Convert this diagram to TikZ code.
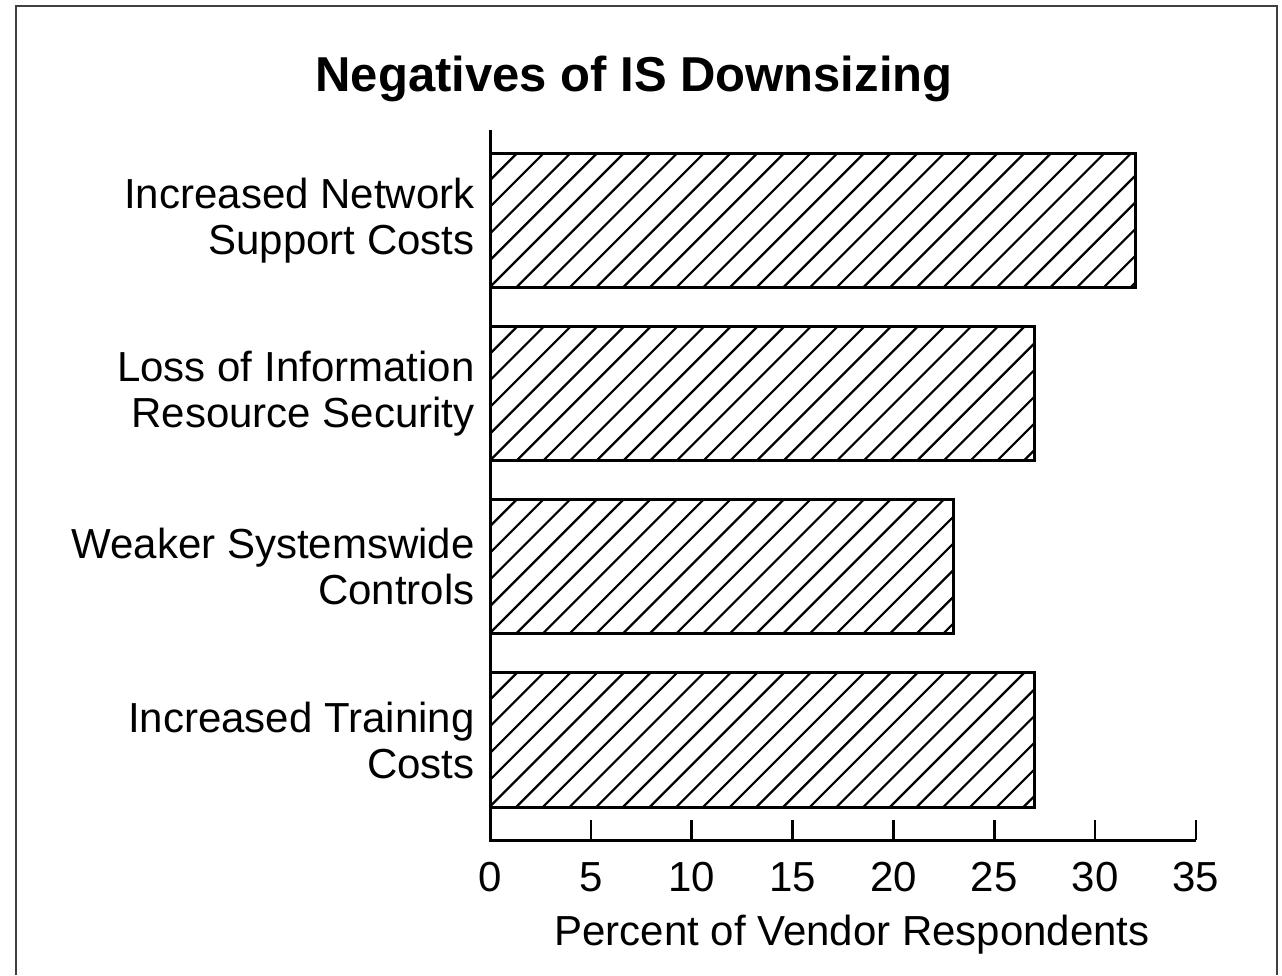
\documentclass[tikz,border=0pt]{standalone}
\usepackage{fontspec}
\setmainfont{Liberation Sans}
\begin{document}
\begin{tikzpicture}[x=1pt,y=1pt,
  barbox/.style={draw,line width=3pt},
  hatch/.style={line width=2.2pt},
  catlabel/.style={font=\fontsize{42}{46}\selectfont,align=right,anchor=east},
  ticklabel/.style={font=\fontsize{42}{46}\selectfont,anchor=base}]
  \useasboundingbox (0,0) rectangle (1282,975);
  % page frame, open at the bottom
  \draw[line width=1.6pt,black!75] (16,0) -- (16,969) -- (1277,969) -- (1277,0);
  \node[font=\bfseries\fontsize{49}{56}\selectfont] (title) at (634,896) {Negatives of IS Downsizing};
  % hatched bars, 20.17 per percent
  \foreach \v/\yc/\txt [count=\i] in {32/754.5/{Increased Network\\Support Costs},
      27/581/{Loss of Information\\Resource Security},
      23/408.5/{Weaker Systemswide\\Controls},
      27/235/{Increased Training\\Costs}} {
    \begin{scope}
      \clip (490,\yc-67) rectangle ({490+20.17*\v},\yc+67);
      \foreach \s in {0,26.7,...,800}
        \draw[hatch] (356+\s,\yc-67) -- ++(134,134);
    \end{scope}
    \draw[barbox] (490,\yc-67) rectangle ({490+20.17*\v},\yc+67);
    \node[catlabel] (cat\i) at (478,\yc) {\txt};
  }
  % axes
  \draw[line width=3pt] (490,845) -- (490,135) -- (1196,135);
  \foreach \t in {5,10,...,35}
    \draw[line width=2.6pt] (490+20.17*\t,135) -- ++(0,20);
  \foreach \t in {0,5,...,35}
    \node[ticklabel] (tick\t) at (490+20.17*\t,84) {\t};
  \node[ticklabel] (xlabel) at (852,30) {Percent of Vendor Respondents};
\end{tikzpicture}
\end{document}
